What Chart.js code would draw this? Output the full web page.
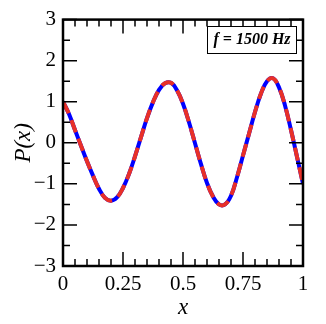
<!DOCTYPE html>
<html>
<head>
<meta charset="utf-8">
<script src="https://cdn.jsdelivr.net/npm/chart.js@4"></script>
<style>
  html, body { margin: 0; padding: 0; background: #fff; }
  #wrap { width: 326px; height: 324px; }
</style>
</head>
<body>
<div id="wrap"><canvas id="myChart" width="326" height="324"></canvas></div>
<script>
// Pressure profile along the duct, sampled every 0.025
const xs = [0, 0.025, 0.05, 0.075, 0.1, 0.125, 0.15, 0.175, 0.2, 0.225,
            0.25, 0.275, 0.3, 0.325, 0.35, 0.375, 0.4, 0.425, 0.45, 0.475,
            0.5, 0.525, 0.55, 0.575, 0.6, 0.625, 0.65, 0.675, 0.7, 0.725,
            0.75, 0.775, 0.8, 0.825, 0.85, 0.875, 0.9, 0.925, 0.95, 0.975, 1];
const pExact = [1.0, 0.70, 0.31, -0.07, -0.45, -0.80, -1.12, -1.34, -1.41, -1.33,
                -1.10, -0.76, -0.33, 0.14, 0.60, 0.99, 1.29, 1.45, 1.46, 1.28,
                0.95, 0.50, -0.01, -0.52, -0.98, -1.31, -1.50, -1.50, -1.29, -0.84,
                -0.31, 0.22, 0.75, 1.20, 1.50, 1.57, 1.35, 0.91, 0.31, -0.34, -1.0];
const pModel = pExact.slice();

// Axis ticks
const xMajor = [0, 0.25, 0.5, 0.75, 1];
const xMinor = [0.05, 0.1, 0.15, 0.2, 0.3, 0.35, 0.4, 0.45, 0.55, 0.6, 0.65, 0.7, 0.8, 0.85, 0.9, 0.95];
const yMajor = [-3, -2, -1, 0, 1, 2, 3];
const yMinor = [-2.5, -1.5, -0.5, 0.5, 1.5, 2.5];

const serif = "'Liberation Serif', 'Times New Roman', serif";

function fmt(v) {
    return v < 0 ? '\u2212' + Math.abs(v) : String(v);
}

// frame, inward ticks on all four sides, and the frequency box
const framePlugin = {
    id: 'frame',
    afterDatasetsDraw(chart) {
        const ctx = chart.ctx;
        const a = chart.chartArea;
        const sx = chart.scales.x, sy = chart.scales.y;
        ctx.save();
        ctx.strokeStyle = '#000';
        ctx.lineWidth = 1.5;
        ctx.beginPath();
        const tick = (vals, len) => {
            vals.forEach(v => {
                const px = sx.getPixelForValue(v);
                ctx.moveTo(px, a.bottom); ctx.lineTo(px, a.bottom - len);
                ctx.moveTo(px, a.top); ctx.lineTo(px, a.top + len);
            });
        };
        const tickY = (vals, len) => {
            vals.forEach(v => {
                const py = sy.getPixelForValue(v);
                ctx.moveTo(a.left, py); ctx.lineTo(a.left + len, py);
                ctx.moveTo(a.right, py); ctx.lineTo(a.right - len, py);
            });
        };
        tick(xMajor, 14); tick(xMinor, 7);
        tickY(yMajor, 14); tickY(yMinor, 7);
        ctx.stroke();

        ctx.lineWidth = 2.5;
        ctx.strokeRect(a.left, a.top, a.right - a.left, a.bottom - a.top);

        // label box
        ctx.fillStyle = '#fff';
        ctx.fillRect(207, 26, 89, 27);
        ctx.lineWidth = 1;
        ctx.strokeRect(207.5, 26.5, 89, 27);
        ctx.fillStyle = '#000';
        ctx.font = "italic bold 16px " + serif;
        ctx.textAlign = 'center';
        ctx.textBaseline = 'middle';
        ctx.fillText('f = 1500 Hz', 252, 40);
        ctx.restore();
    }
};

new Chart("myChart", {
    type: "line",
    data: {
        labels: xs,
        datasets: [{
            label: "exact",
            data: xs.map((x, i) => ({ x: x, y: pExact[i] })),
            borderColor: "rgb(0,0,255)",
            borderWidth: 4,
            pointRadius: 0,
            fill: false,
            tension: 0.4,
            order: 2
        }, {
            label: "model",
            data: xs.map((x, i) => ({ x: x, y: pModel[i] })),
            borderColor: "rgb(232,48,40)",
            borderWidth: 4,
            borderDash: [13, 7],
            pointRadius: 0,
            fill: false,
            tension: 0.4,
            order: 1
        }]
    },
    options: {
        responsive: false,
        animation: false,
        layout: { padding: { left: 4, top: 16, right: 23, bottom: 0 } },
        scales: {
            x: {
                type: 'linear',
                min: 0,
                max: 1,
                grid: { display: false, drawTicks: false },
                border: { display: false },
                afterFit: s => { s.height = 58; },
                afterBuildTicks: s => { s.ticks = xMajor.map(v => ({ value: v })); },
                ticks: {
                    color: '#000',
                    padding: 6,
                    maxRotation: 0,
                    font: { family: serif, size: 21 },
                    callback: v => fmt(v)
                },
                title: {
                    display: true,
                    text: 'x',
                    color: '#000',
                    padding: { top: 0, bottom: 2 },
                    font: { family: serif, size: 23, style: 'italic' }
                }
            },
            y: {
                min: -3,
                max: 3,
                grid: { display: false, drawTicks: false },
                border: { display: false },
                afterFit: s => { s.width = 59; },
                afterBuildTicks: s => { s.ticks = yMajor.map(v => ({ value: v })); },
                ticks: {
                    color: '#000',
                    padding: 7,
                    font: { family: serif, size: 21 },
                    callback: v => fmt(v)
                },
                title: {
                    display: true,
                    text: 'P(x)',
                    color: '#000',
                    padding: { top: 6, bottom: 0 },
                    font: { family: serif, size: 23, style: 'italic' }
                }
            }
        },
        plugins: {
            legend: { display: false },
            tooltip: { enabled: false }
        }
    },
    plugins: [framePlugin]
});
</script>
</body>
</html>
